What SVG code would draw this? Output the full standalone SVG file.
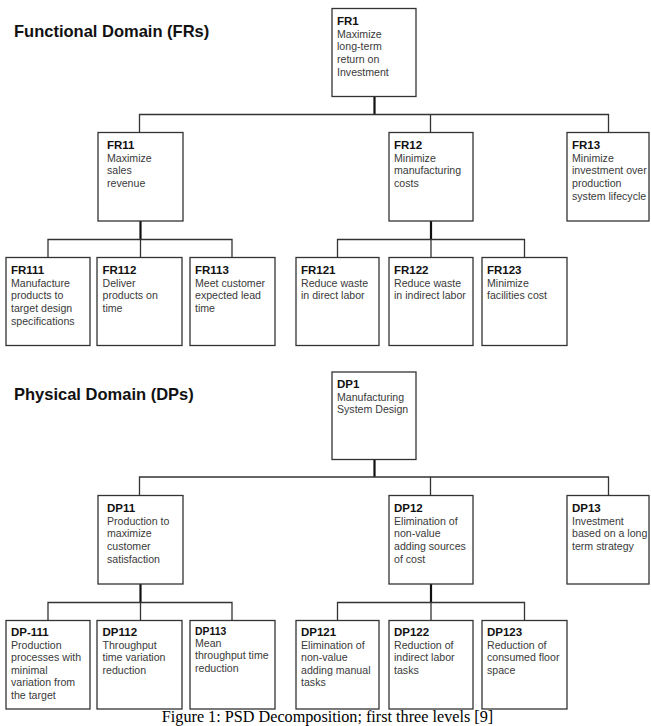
<svg xmlns="http://www.w3.org/2000/svg" width="651" height="726" viewBox="0 0 651 726">
<style>
.box{fill:#fff;stroke:#333;stroke-width:1.3}
.h{font-family:"Liberation Sans",Arial,sans-serif;font-weight:bold;font-size:11.5px;fill:#111}
.h2{font-family:"Liberation Sans",Arial,sans-serif;font-weight:bold;font-size:10.4px;fill:#111}
.b{font-family:"Liberation Sans",Arial,sans-serif;font-size:10.6px;fill:#3a3a3a}
.title{font-family:"Liberation Sans",Arial,sans-serif;font-weight:bold;font-size:16.5px;fill:#111}
.cap{font-family:"Liberation Serif","Times New Roman",serif;font-size:16.2px;fill:#000}
.ln{fill:none;stroke:#333;stroke-width:1.3}
.lt{fill:none;stroke:#111;stroke-width:2.2}
</style>
<rect width="651" height="726" fill="#fff"/>
<text class="title" x="14" y="36.5">Functional Domain (FRs)</text>
<text class="title" x="14" y="399.5">Physical Domain (DPs)</text>
<g id="connectors">
<path class="lt" d="M374.5 96.5V114.5"/>
<path class="ln" d="M139.5 132.5V114.5H608.5V132.5M430.5 114.5V132.5"/>
<path class="lt" d="M140.5 221V239.5"/>
<path class="ln" d="M48 257.5V239.5H232V257.5M140.5 239.5V257.5"/>
<path class="lt" d="M431 221V239.5"/>
<path class="ln" d="M337.5 257.5V239.5H524.5V257.5M431 239.5V257.5"/>
<path class="lt" d="M374.5 459.5V477"/>
<path class="ln" d="M139.5 495.5V477H608.5V495.5M430.5 477V495.5"/>
<path class="lt" d="M140.5 584V602.5"/>
<path class="ln" d="M48 620.5V602.5H232V620.5M140.5 602.5V620.5"/>
<path class="lt" d="M431 584V602.5"/>
<path class="ln" d="M337.5 620.5V602.5H524.5V620.5M431 602.5V620.5"/>
</g>
<g id="FR1"><rect class="box" x="332" y="8.5" width="84" height="88"/><text class="h" x="337" y="24.8">FR1</text><text class="b" x="337" y="37.7"><tspan>Maximize</tspan><tspan x="337" dy="12.6">long-term</tspan><tspan x="337" dy="12.6">return on</tspan><tspan x="337" dy="12.6">Investment</tspan></text></g>
<g id="FR11"><rect class="box" x="98" y="132.5" width="85" height="88.5"/><text class="h" x="107" y="149">FR11</text><text class="b" x="107" y="161.8"><tspan>Maximize</tspan><tspan x="107" dy="12.6">sales</tspan><tspan x="107" dy="12.6">revenue</tspan></text></g>
<g id="FR12"><rect class="box" x="389" y="132.5" width="84" height="88.5"/><text class="h" x="394" y="149">FR12</text><text class="b" x="394" y="161.8"><tspan>Minimize</tspan><tspan x="394" dy="12.6">manufacturing</tspan><tspan x="394" dy="12.6">costs</tspan></text></g>
<g id="FR13"><rect class="box" x="567" y="132.5" width="82" height="88.5"/><text class="h" x="572" y="149">FR13</text><text class="b" x="572" y="161.8"><tspan>Minimize</tspan><tspan x="572" dy="12.6">investment over</tspan><tspan x="572" dy="12.6">production</tspan><tspan x="572" dy="12.6">system lifecycle</tspan></text></g>
<g id="FR111"><rect class="box" x="6" y="257.5" width="84" height="88"/><text class="h" x="11" y="274">FR111</text><text class="b" x="11" y="286.8"><tspan>Manufacture</tspan><tspan x="11" dy="12.6">products to</tspan><tspan x="11" dy="12.6">target design</tspan><tspan x="11" dy="12.6">specifications</tspan></text></g>
<g id="FR112"><rect class="box" x="97" y="257.5" width="85" height="88"/><text class="h" x="102.5" y="274">FR112</text><text class="b" x="102.5" y="286.8"><tspan>Deliver</tspan><tspan x="102.5" dy="12.6">products on</tspan><tspan x="102.5" dy="12.6">time</tspan></text></g>
<g id="FR113"><rect class="box" x="190" y="257.5" width="85" height="88"/><text class="h" x="195" y="274">FR113</text><text class="b" x="195" y="286.8"><tspan>Meet customer</tspan><tspan x="195" dy="12.6">expected lead</tspan><tspan x="195" dy="12.6">time</tspan></text></g>
<g id="FR121"><rect class="box" x="296" y="257.5" width="83" height="88"/><text class="h" x="301" y="274">FR121</text><text class="b" x="301" y="286.8"><tspan>Reduce waste</tspan><tspan x="301" dy="12.6">in direct labor</tspan></text></g>
<g id="FR122"><rect class="box" x="389" y="257.5" width="84" height="88"/><text class="h" x="394" y="274">FR122</text><text class="b" x="394" y="286.8"><tspan>Reduce waste</tspan><tspan x="394" dy="12.6">in indirect labor</tspan></text></g>
<g id="FR123"><rect class="box" x="482" y="257.5" width="85" height="88"/><text class="h" x="487" y="274">FR123</text><text class="b" x="487" y="286.8"><tspan>Minimize</tspan><tspan x="487" dy="12.6">facilities cost</tspan></text></g>
<g id="DP1"><rect class="box" x="332" y="372" width="84" height="87.5"/><text class="h" x="337" y="388">DP1</text><text class="b" x="337" y="400.8"><tspan>Manufacturing</tspan><tspan x="337" dy="12.6">System Design</tspan></text></g>
<g id="DP11"><rect class="box" x="98" y="495.5" width="85" height="88.5"/><text class="h" x="107" y="512">DP11</text><text class="b" x="107" y="524.8"><tspan>Production to</tspan><tspan x="107" dy="12.6">maximize</tspan><tspan x="107" dy="12.6">customer</tspan><tspan x="107" dy="12.6">satisfaction</tspan></text></g>
<g id="DP12"><rect class="box" x="389" y="495.5" width="84" height="88.5"/><text class="h" x="394" y="512">DP12</text><text class="b" x="394" y="524.8"><tspan>Elimination of</tspan><tspan x="394" dy="12.6">non-value</tspan><tspan x="394" dy="12.6">adding sources</tspan><tspan x="394" dy="12.6">of cost</tspan></text></g>
<g id="DP13"><rect class="box" x="567" y="495.5" width="82" height="88.5"/><text class="h" x="572" y="512">DP13</text><text class="b" x="572" y="524.8"><tspan>Investment</tspan><tspan x="572" dy="12.6">based on a long</tspan><tspan x="572" dy="12.6">term strategy</tspan></text></g>
<g id="DP-111"><rect class="box" x="6" y="620.5" width="84" height="88.5"/><text class="h" x="11" y="636">DP-111</text><text class="b" x="11" y="648.6"><tspan>Production</tspan><tspan x="11" dy="12.6">processes with</tspan><tspan x="11" dy="12.6">minimal</tspan><tspan x="11" dy="12.6">variation from</tspan><tspan x="11" dy="12.6">the target</tspan></text></g>
<g id="DP112"><rect class="box" x="97" y="620.5" width="85" height="88.5"/><text class="h" x="102.5" y="636">DP112</text><text class="b" x="102.5" y="648.6"><tspan>Throughput</tspan><tspan x="102.5" dy="12.6">time variation</tspan><tspan x="102.5" dy="12.6">reduction</tspan></text></g>
<g id="DP113"><rect class="box" x="190" y="620.5" width="85" height="88.5"/><text class="h2" x="195" y="634.5">DP113</text><text class="b" x="195" y="646.8"><tspan>Mean</tspan><tspan x="195" dy="12.4">throughput time</tspan><tspan x="195" dy="12.4">reduction</tspan></text></g>
<g id="DP121"><rect class="box" x="296" y="620.5" width="83" height="88.5"/><text class="h" x="301" y="636">DP121</text><text class="b" x="301" y="648.6"><tspan>Elimination of</tspan><tspan x="301" dy="12.6">non-value</tspan><tspan x="301" dy="12.6">adding manual</tspan><tspan x="301" dy="12.6">tasks</tspan></text></g>
<g id="DP122"><rect class="box" x="389" y="620.5" width="84" height="88.5"/><text class="h" x="394" y="636">DP122</text><text class="b" x="394" y="648.6"><tspan>Reduction of</tspan><tspan x="394" dy="12.6">indirect labor</tspan><tspan x="394" dy="12.6">tasks</tspan></text></g>
<g id="DP123"><rect class="box" x="482" y="620.5" width="85" height="88.5"/><text class="h" x="487" y="636">DP123</text><text class="b" x="487" y="648.6"><tspan>Reduction of</tspan><tspan x="487" dy="12.6">consumed floor</tspan><tspan x="487" dy="12.6">space</tspan></text></g>
<text class="cap" x="327.5" y="721.5" text-anchor="middle">Figure 1: PSD Decomposition; first three levels [9]</text>
</svg>
